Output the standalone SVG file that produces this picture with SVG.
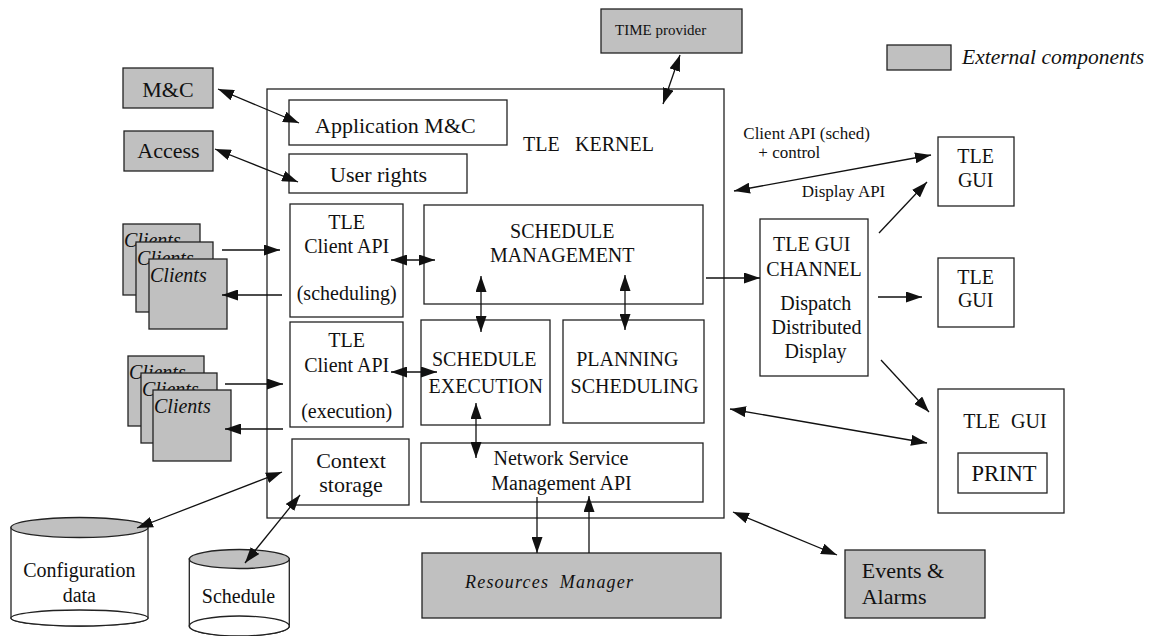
<svg xmlns="http://www.w3.org/2000/svg" width="1160" height="636" viewBox="0 0 1160 636">
<defs>
<marker id="ah" markerUnits="userSpaceOnUse" markerWidth="16" markerHeight="11" refX="16" refY="5.5" orient="auto-start-reverse" viewBox="0 0 16 11">
<path d="M0,0 L16,5.5 L0,11 z" fill="#111"/>
</marker>
</defs>
<rect width="1160" height="636" fill="#fff"/>

<g id="kernel"><rect fill="#fff" stroke="#222" stroke-width="1.3" x="267" y="89" width="457" height="429"/><text font-family="Times New Roman, Liberation Serif, serif" font-size="20" fill="#111" x="523" y="151">TLE<tspan x="575">KERNEL</tspan></text></g>
<g id="legend"><rect fill="#c0c0c0" stroke="#222" stroke-width="1.3" x="887" y="45" width="64" height="25"/><text font-family="Times New Roman, Liberation Serif, serif" font-size="21.5" font-style="italic" fill="#111" x="962" y="64">External components</text></g>
<g id="time"><rect fill="#c0c0c0" stroke="#222" stroke-width="1.3" x="601" y="9" width="141" height="44"/><text font-family="Times New Roman, Liberation Serif, serif" font-size="15" fill="#111" x="615" y="35">TIME provider</text></g>
<g id="mc"><rect fill="#c0c0c0" stroke="#222" stroke-width="1.3" x="123" y="68" width="90" height="40"/><text font-family="Times New Roman, Liberation Serif, serif" font-size="22" fill="#111" text-anchor="middle" x="168" y="97">M&amp;C</text></g>
<g id="access"><rect fill="#c0c0c0" stroke="#222" stroke-width="1.3" x="124" y="131" width="89" height="40"/><text font-family="Times New Roman, Liberation Serif, serif" font-size="22" fill="#111" text-anchor="middle" x="168.5" y="158">Access</text></g>
<g id="appmc"><rect fill="#fff" stroke="#222" stroke-width="1.3" x="289" y="100" width="218" height="45"/><text font-family="Times New Roman, Liberation Serif, serif" font-size="22" fill="#111" x="315" y="133">Application M&amp;C</text></g>
<g id="userrights"><rect fill="#fff" stroke="#222" stroke-width="1.3" x="289" y="154" width="178" height="39"/><text font-family="Times New Roman, Liberation Serif, serif" font-size="22" fill="#111" x="330" y="182">User rights</text></g>

<g id="clients1">
<rect fill="#c0c0c0" stroke="#222" stroke-width="1.3" x="123" y="224" width="77" height="71"/><text font-family="Times New Roman, Liberation Serif, serif" font-size="20" font-style="italic" fill="#111" x="124" y="247">Clients</text>
<rect fill="#c0c0c0" stroke="#222" stroke-width="1.3" x="136" y="242" width="77" height="70"/><text font-family="Times New Roman, Liberation Serif, serif" font-size="20" font-style="italic" fill="#111" x="137" y="265">Clients</text>
<rect fill="#c0c0c0" stroke="#222" stroke-width="1.3" x="149" y="259" width="78" height="70"/><text font-family="Times New Roman, Liberation Serif, serif" font-size="20" font-style="italic" fill="#111" x="150" y="282">Clients</text>
</g>
<g id="clients2">
<rect fill="#c0c0c0" stroke="#222" stroke-width="1.3" x="128" y="356" width="76" height="70"/><text font-family="Times New Roman, Liberation Serif, serif" font-size="20" font-style="italic" fill="#111" x="129" y="379">Clients</text>
<rect fill="#c0c0c0" stroke="#222" stroke-width="1.3" x="141" y="373" width="76" height="70"/><text font-family="Times New Roman, Liberation Serif, serif" font-size="20" font-style="italic" fill="#111" x="142" y="396">Clients</text>
<rect fill="#c0c0c0" stroke="#222" stroke-width="1.3" x="153" y="390" width="78" height="71"/><text font-family="Times New Roman, Liberation Serif, serif" font-size="20" font-style="italic" fill="#111" x="154" y="413">Clients</text>
</g>

<g id="apisched"><rect fill="#fff" stroke="#222" stroke-width="1.3" x="290" y="204" width="113" height="113"/>
<text font-family="Times New Roman, Liberation Serif, serif" font-size="20" fill="#111" text-anchor="middle" x="346.7" y="229">TLE</text>
<text font-family="Times New Roman, Liberation Serif, serif" font-size="20" fill="#111" text-anchor="middle" x="346.7" y="253">Client API</text>
<text font-family="Times New Roman, Liberation Serif, serif" font-size="20" fill="#111" text-anchor="middle" x="346.7" y="300">(scheduling)</text></g>
<g id="apiexec"><rect fill="#fff" stroke="#222" stroke-width="1.3" x="290" y="322" width="113" height="105"/>
<text font-family="Times New Roman, Liberation Serif, serif" font-size="20" fill="#111" text-anchor="middle" x="346.7" y="347">TLE</text>
<text font-family="Times New Roman, Liberation Serif, serif" font-size="20" fill="#111" text-anchor="middle" x="346.7" y="372">Client API</text>
<text font-family="Times New Roman, Liberation Serif, serif" font-size="20" fill="#111" text-anchor="middle" x="346.7" y="418">(execution)</text></g>
<g id="schedmgmt"><rect fill="#fff" stroke="#222" stroke-width="1.3" x="424" y="205" width="279" height="99"/>
<text font-family="Times New Roman, Liberation Serif, serif" font-size="20" fill="#111" text-anchor="middle" x="562.3" y="238">SCHEDULE</text>
<text font-family="Times New Roman, Liberation Serif, serif" font-size="20" fill="#111" text-anchor="middle" x="562.3" y="262">MANAGEMENT</text></g>
<g id="schedexec"><rect fill="#fff" stroke="#222" stroke-width="1.3" x="421" y="320" width="129" height="105"/>
<text font-family="Times New Roman, Liberation Serif, serif" font-size="20" fill="#111" text-anchor="middle" x="484.2" y="366">SCHEDULE</text>
<text font-family="Times New Roman, Liberation Serif, serif" font-size="20" fill="#111" text-anchor="middle" x="485.8" y="393">EXECUTION</text></g>
<g id="planning"><rect fill="#fff" stroke="#222" stroke-width="1.3" x="563" y="320" width="141" height="103"/>
<text font-family="Times New Roman, Liberation Serif, serif" font-size="20" fill="#111" text-anchor="middle" x="627.3" y="366">PLANNING</text>
<text font-family="Times New Roman, Liberation Serif, serif" font-size="20" fill="#111" text-anchor="middle" x="634.5" y="393">SCHEDULING</text></g>
<g id="context"><rect fill="#fff" stroke="#222" stroke-width="1.3" x="292" y="439" width="117" height="66"/>
<text font-family="Times New Roman, Liberation Serif, serif" font-size="22" fill="#111" text-anchor="middle" x="351" y="468">Context</text>
<text font-family="Times New Roman, Liberation Serif, serif" font-size="22" fill="#111" text-anchor="middle" x="351" y="492">storage</text></g>
<g id="nsm"><rect fill="#fff" stroke="#222" stroke-width="1.3" x="421" y="443" width="282" height="59"/>
<text font-family="Times New Roman, Liberation Serif, serif" font-size="20" fill="#111" text-anchor="middle" x="561" y="465">Network Service</text>
<text font-family="Times New Roman, Liberation Serif, serif" font-size="20" fill="#111" text-anchor="middle" x="561.5" y="490">Management API</text></g>
<g id="resources"><rect fill="#c0c0c0" stroke="#222" stroke-width="1.3" x="422" y="553" width="299" height="65"/><text font-family="Times New Roman, Liberation Serif, serif" font-size="18" font-style="italic" letter-spacing="1.2" word-spacing="5" fill="#111" x="465" y="588">Resources Manager</text></g>

<g id="channel"><rect fill="#fff" stroke="#222" stroke-width="1.3" x="760" y="219" width="108" height="157"/>
<text font-family="Times New Roman, Liberation Serif, serif" font-size="20" fill="#111" text-anchor="middle" x="811.7" y="251">TLE GUI</text>
<text font-family="Times New Roman, Liberation Serif, serif" font-size="20" fill="#111" text-anchor="middle" x="814" y="276">CHANNEL</text>
<text font-family="Times New Roman, Liberation Serif, serif" font-size="20" fill="#111" text-anchor="middle" x="815.8" y="310">Dispatch</text>
<text font-family="Times New Roman, Liberation Serif, serif" font-size="20" fill="#111" text-anchor="middle" x="816.5" y="334">Distributed</text>
<text font-family="Times New Roman, Liberation Serif, serif" font-size="20" fill="#111" text-anchor="middle" x="815.5" y="358">Display</text></g>
<g id="gui1"><rect fill="#fff" stroke="#222" stroke-width="1.3" x="938" y="137" width="76" height="69"/>
<text font-family="Times New Roman, Liberation Serif, serif" font-size="20" fill="#111" text-anchor="middle" x="975.7" y="163">TLE</text>
<text font-family="Times New Roman, Liberation Serif, serif" font-size="20" fill="#111" text-anchor="middle" x="975.7" y="187">GUI</text></g>
<g id="gui2"><rect fill="#fff" stroke="#222" stroke-width="1.3" x="938" y="258" width="76" height="69"/>
<text font-family="Times New Roman, Liberation Serif, serif" font-size="20" fill="#111" text-anchor="middle" x="975.7" y="284">TLE</text>
<text font-family="Times New Roman, Liberation Serif, serif" font-size="20" fill="#111" text-anchor="middle" x="975.7" y="307">GUI</text></g>
<g id="gui3"><rect fill="#fff" stroke="#222" stroke-width="1.3" x="938" y="389" width="126" height="124"/>
<text font-family="Times New Roman, Liberation Serif, serif" font-size="20" fill="#111" x="963.3" y="428">TLE <tspan x="1011">GUI</tspan></text>
<rect fill="#fff" stroke="#222" stroke-width="1.3" x="958" y="453" width="89" height="40"/>
<text font-family="Times New Roman, Liberation Serif, serif" font-size="22.5" fill="#111" text-anchor="middle" x="1004" y="481">PRINT</text></g>
<g id="events"><rect fill="#c0c0c0" stroke="#222" stroke-width="1.3" x="845" y="550" width="140" height="68"/>
<text font-family="Times New Roman, Liberation Serif, serif" font-size="22" fill="#111" x="861.7" y="578">Events &amp;</text>
<text font-family="Times New Roman, Liberation Serif, serif" font-size="22" fill="#111" x="861.7" y="604">Alarms</text></g>

<g id="configdata">
<path fill="#fff" stroke="#222" stroke-width="1.3" d="M11,527.5 L11,618 A68.5,8 0 0 0 148,618 L148,527.5 z"/>
<ellipse fill="#fff" stroke="#222" stroke-width="1.3" cx="79.5" cy="618" rx="68.5" ry="8"/>
<ellipse fill="#c0c0c0" stroke="#222" stroke-width="1.3" cx="79.5" cy="527.5" rx="68.5" ry="10"/>
<text font-family="Times New Roman, Liberation Serif, serif" font-size="20" fill="#111" text-anchor="middle" x="79.3" y="577">Configuration</text>
<text font-family="Times New Roman, Liberation Serif, serif" font-size="20" fill="#111" text-anchor="middle" x="79.3" y="602">data</text>
</g>
<g id="schedule">
<path fill="#fff" stroke="#222" stroke-width="1.3" d="M189.3,559 L189.3,626 A50,10 0 0 0 289.3,626 L289.3,559 z"/>
<ellipse fill="#fff" stroke="#222" stroke-width="1.3" cx="239.3" cy="626" rx="50" ry="10"/>
<ellipse fill="#c0c0c0" stroke="#222" stroke-width="1.3" cx="239.3" cy="559" rx="50" ry="9.5"/>
<text font-family="Times New Roman, Liberation Serif, serif" font-size="20" fill="#111" text-anchor="middle" x="238.5" y="603">Schedule</text>
</g>

<g id="labels">
<text font-family="Times New Roman, Liberation Serif, serif" font-size="17" fill="#111" x="743.3" y="139">Client API (sched)</text>
<text font-family="Times New Roman, Liberation Serif, serif" font-size="17" fill="#111" x="758.3" y="158">+ control</text>
<text font-family="Times New Roman, Liberation Serif, serif" font-size="17" fill="#111" x="801.7" y="197">Display API</text>
</g>

<g id="connectors" stroke="#111" stroke-width="1.3" fill="none">
<line marker-start="url(#ah)" marker-end="url(#ah)" x1="218" y1="89" x2="299" y2="123"/>
<line marker-start="url(#ah)" marker-end="url(#ah)" x1="215" y1="149" x2="298" y2="182"/>
<line marker-start="url(#ah)" marker-end="url(#ah)" x1="680" y1="55" x2="663" y2="104"/>
<line marker-start="url(#ah)" marker-end="url(#ah)" x1="734" y1="191" x2="931" y2="155"/>
<line marker-end="url(#ah)" x1="879" y1="233" x2="927" y2="182"/>
<line marker-end="url(#ah)" x1="878" y1="297" x2="922" y2="297"/>
<line marker-end="url(#ah)" x1="881" y1="360" x2="929" y2="412"/>
<line marker-start="url(#ah)" marker-end="url(#ah)" x1="730" y1="409" x2="927" y2="443"/>
<line marker-start="url(#ah)" marker-end="url(#ah)" x1="733" y1="512" x2="837" y2="555"/>
<line marker-end="url(#ah)" x1="706" y1="278" x2="760" y2="278"/>
<line marker-end="url(#ah)" x1="222" y1="250" x2="280" y2="250"/>
<line marker-end="url(#ah)" x1="282" y1="295" x2="222" y2="295"/>
<line marker-end="url(#ah)" x1="225" y1="384" x2="283" y2="384"/>
<line marker-end="url(#ah)" x1="283" y1="429" x2="225" y2="429"/>
<line marker-start="url(#ah)" marker-end="url(#ah)" x1="391" y1="260" x2="435" y2="260"/>
<line marker-start="url(#ah)" marker-end="url(#ah)" x1="391" y1="372" x2="437" y2="372"/>
<line marker-start="url(#ah)" marker-end="url(#ah)" x1="481" y1="276" x2="481" y2="332"/>
<line marker-start="url(#ah)" marker-end="url(#ah)" x1="625" y1="275" x2="625" y2="330"/>
<line marker-start="url(#ah)" marker-end="url(#ah)" x1="476" y1="403" x2="476" y2="458"/>
<line marker-end="url(#ah)" x1="537" y1="497" x2="537" y2="553"/>
<line marker-end="url(#ah)" x1="589" y1="553" x2="589" y2="496"/>
<line marker-start="url(#ah)" marker-end="url(#ah)" x1="282" y1="472" x2="137" y2="528"/>
<line marker-start="url(#ah)" marker-end="url(#ah)" x1="300" y1="495" x2="245" y2="563"/>
</g>
</svg>
